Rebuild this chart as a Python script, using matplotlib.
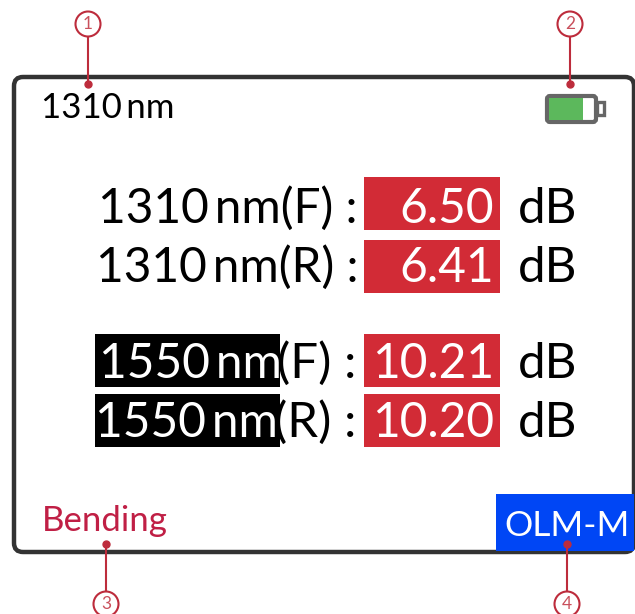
import matplotlib
matplotlib.use("Agg")
import matplotlib.pyplot as plt
from matplotlib.patches import Rectangle, FancyBboxPatch, Circle

W = 635
H = 614

# screen text
header = "1310\u2009nm"
labels_top = ["1310\u2009nm(F) :", "1310\u2009nm(R) :"]
values_top = ["6.50", "6.41"]
wave_bottom = ["1550\u2009nm", "1550\u2009nm"]
suffix_bottom = ["(F) :", "(R) :"]
values_bottom = ["10.21", "10.20"]
unit = "dB"
mode = "Bending"
button = "OLM-M"
callouts = ["1", "2", "3", "4"]

RED = "#d22b36"
CALL = "#bd2c3c"
DARK = "#333333"
FS = 34.5

plt.rcParams["font.family"] = ["Lato", "DejaVu Sans"]

fig = plt.figure(figsize=(W / 100, H / 100), dpi=100)
ax = fig.add_axes([0, 0, 1, 1])
ax.set_xlim(0, W)
ax.set_ylim(H, 0)
ax.axis("off")

# screen outline
ax.add_patch(FancyBboxPatch((14, 77), 620, 475, boxstyle="round,pad=0,rounding_size=9",
                            fc="white", ec=DARK, lw=3.2, zorder=1))

# OLM-M button
ax.add_patch(Rectangle((496, 494), 138, 57, fc="#0046f5", ec="none", zorder=2))
ax.text(567, 526, button, color="white", fontsize=25.5, ha="center", va="center", zorder=3)

ax.text(41, 108, header, fontsize=25, color="black", ha="left", va="center")
ax.text(42, 521, mode, fontsize=25, color="#c01f45", ha="left", va="center")

# battery
ax.add_patch(FancyBboxPatch((547, 96), 49, 26, boxstyle="round,pad=0,rounding_size=3",
                            fc="white", ec="#666666", lw=3, zorder=2))
ax.add_patch(Rectangle((549, 98), 34, 22, fc="#5cb85c", ec="none", zorder=3))
ax.add_patch(Rectangle((597, 102), 7, 13, fc="white", ec="#666666", lw=2.4, zorder=1.5))

# measurement rows, top of red box and text baseline
box_top = [177, 240, 334, 394]
baseline = [223, 282, 378, 437]
box_h = 53


def value_row(i, val):
    ax.add_patch(Rectangle((364, box_top[i]), 135.5, box_h, fc=RED, ec="none", zorder=2))
    ax.text(494, baseline[i], val, fontsize=FS, color="white", ha="right", va="baseline", zorder=3)
    ax.text(518, baseline[i], unit, fontsize=35.5, color="black", ha="left", va="baseline")


for i in range(2):
    ax.text(358, baseline[i], labels_top[i], fontsize=FS, color="black", ha="right", va="baseline")
    value_row(i, values_top[i])

wave_x = [99, 95]
for i in range(2):
    r = i + 2
    ax.add_patch(Rectangle((94.5, box_top[r]), 185.5, box_h - 0.5, fc="black", ec="none", zorder=2))
    ax.text(wave_x[i], baseline[r], wave_bottom[i], fontsize=FS, color="white", ha="left", va="baseline", zorder=3)
    ax.text(356, baseline[r], suffix_bottom[i], fontsize=35.5, color="black", ha="right", va="baseline")
    value_row(r, values_bottom[i])

# callouts: circle centre x, circle y, dot y
for name, cx, cy, dy in [(callouts[0], 88, 24, 84), (callouts[1], 570, 24, 84),
                         (callouts[2], 106, 604, 544), (callouts[3], 567, 604, 544)]:
    ax.plot([cx, cx], [cy, dy], color=CALL, lw=1.5, zorder=5)
    ax.add_patch(Circle((cx, cy), 12.5, fc="white", ec=CALL, lw=1.5, zorder=6))
    ax.plot([cx], [dy], "o", color=CALL, ms=5, zorder=6)
    ax.text(cx, cy, name, fontsize=12.5, color="#c9505c", ha="center", va="center", zorder=7)

fig.savefig("out.png", dpi=100)
